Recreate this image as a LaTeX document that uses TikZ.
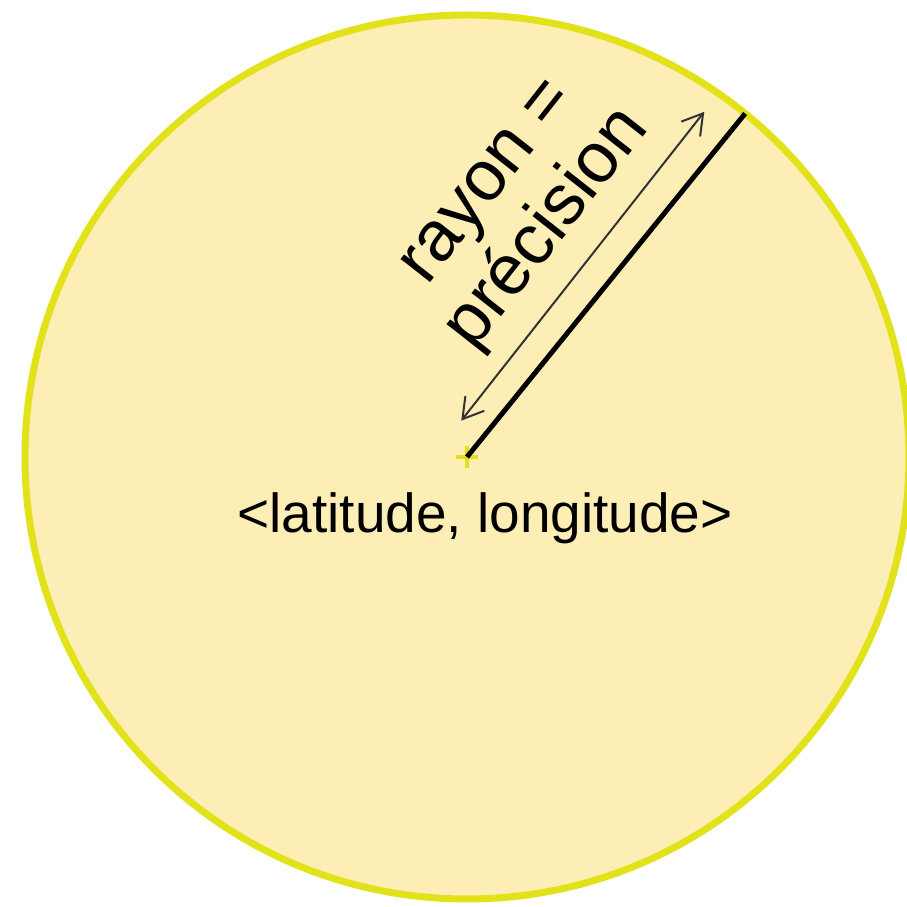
\documentclass[tikz,border=0pt]{standalone}
\usepackage{fontspec}
\setmainfont{Liberation Sans}
\definecolor{zonefill}{HTML}{FDEEB6}
\definecolor{zoneedge}{HTML}{E2E21B}
\definecolor{dimgray}{HTML}{333333}
\usetikzlibrary{arrows.meta,calc}
\tikzset{
  zone/.style={circle,draw=zoneedge,fill=zonefill,line width=7pt,minimum size=884pt,
               inner sep=0pt,outer sep=0pt},
  rad/.style={line width=5pt,black},
  dim/.style={{Straight Barb[length=20pt,width=24pt]}-{Straight Barb[length=20pt,width=24pt]},
              line width=2pt,dimgray},
  ctrmark/.style={line width=4pt,zoneedge},
  lbl/.style={font=\fontsize{55}{66}\selectfont,inner sep=0pt},
  rlbl/.style={font=\fontsize{71}{77}\selectfont,align=center,inner sep=0pt,rotate=51.8}
}

\begin{document}
\begin{tikzpicture}[x=1pt,y=1pt]
    \useasboundingbox (0,0) rectangle (906,907);
    \node[zone] (zone) at (467,450) {};
    \coordinate (c) at (zone.center);
    \coordinate (tip) at (zone.51.8);
    % centre marker
    \draw[ctrmark] ($(c)+(-11pt,0)$) -- ($(c)+(11pt,0)$);
    \draw[ctrmark] ($(c)+(0,-11pt)$) -- ($(c)+(0,11pt)$);
    \draw[rad] (c) -- (tip);
    \coordinate (d1) at ($(c)+(51.8:25pt)+(141.8:27pt)$);
    \coordinate (d2) at ($(c)+(51.8:418pt)+(141.8:27pt)$);
    \draw[dim] (d1) -- (d2);
    \node[rlbl] (radlbl) at ($(c)+(51.8:229pt)+(141.8:110pt)$) {rayon =\\précision};
    \node[lbl,anchor=base] (pos) at (485,374) {<latitude, longitude>};
  \end{tikzpicture}
\end{document}
